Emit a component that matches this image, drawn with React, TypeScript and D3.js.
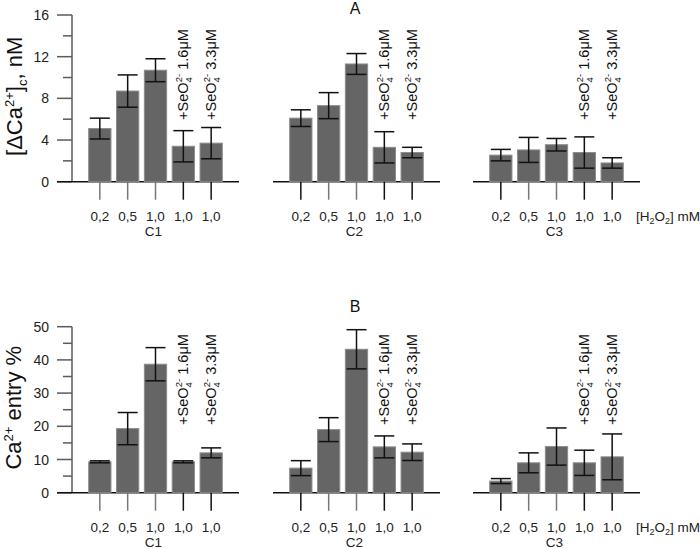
// Two-panel bar chart: [ΔCa2+]c and Ca2+ entry for C1–C3 under H2O2 / SeO4 treatments

import * as d3 from "d3";

const groups = ["C1", "C2", "C3"];
const doses = ["0,2", "0,5", "1,0", "1,0", "1,0"];
const seleniteNotes = ["", "", "", "1.6μM", "3.3μM"];

// panel A: [ΔCa2+]c, nM
const caMean = [
  [5.1, 8.7, 10.7, 3.4, 3.7],
  [6.1, 7.3, 11.3, 3.3, 2.8],
  [2.55, 3.05, 3.55, 2.8, 1.8],
];
const caErr = [
  [1.0, 1.55, 1.1, 1.5, 1.5],
  [0.8, 1.25, 1.0, 1.5, 0.5],
  [0.55, 1.2, 0.6, 1.5, 0.5],
];
const caTicks = [0, 4, 8, 12, 16];

// panel B: Ca2+ entry %
const entryMean = [
  [9.3, 19.3, 38.7, 9.3, 12.0],
  [7.4, 19.0, 43.2, 13.8, 12.2],
  [3.5, 9.0, 13.9, 9.0, 10.8],
];
const entryErr = [
  [0.3, 4.85, 5.0, 0.3, 1.5],
  [2.25, 3.6, 5.9, 3.3, 2.5],
  [0.75, 3.0, 5.6, 3.8, 6.9],
];
const entryTicks = [0, 10, 20, 30, 40, 50];

const FONT = "'Liberation Sans', Arial, sans-serif";
const BAR = "#656565";
const BAR_EDGE = "#8c8c8c";
const AXIS_GRAY = "#5a5a5a";
const INK = "#111";

const W = 700;
const H = 549;
const axisX = 72;
const groupStarts = [72, 273, 473];
const groupWidth = 167;

const xIn = d3
  .scalePoint<number>()
  .domain(d3.range(doses.length))
  .range([0, groupWidth])
  .padding(1);
const barW = xIn.step() * 0.8;

interface PanelProps {
  top: number;
  bottom: number;
  title: string;
  titleY: number;
  noteY: number;
  means: number[][];
  errs: number[][];
  ticks: number[];
  label: "ca" | "entry";
}

function SeNote({ x, y, conc }: { x: number; y: number; conc: string }) {
  return (
    <text
      transform={`translate(${x + 5},${y}) rotate(-90)`}
      fontSize={14.5}
      fontFamily={FONT}
      fill={INK}
    >
      +SeO
      <tspan fontSize={9.5} dy={4}>4</tspan>
      <tspan fontSize={9.5} dx={-5} dy={-10}>2-</tspan>
      <tspan dy={6}>{" " + conc}</tspan>
    </text>
  );
}

function Panel({ top, bottom, title, titleY, noteY, means, errs, ticks, label }: PanelProps) {
  const yMax = ticks[ticks.length - 1];
  const y = d3.scaleLinear().domain([0, yMax]).range([bottom, top]);
  const minor = d3.range(ticks[1] / 2, yMax, ticks[1]);
  const labelCenter = (top + bottom) / 2;

  return (
    <g>
      <text x={355} y={titleY} textAnchor="middle" fontSize={16} fontFamily={FONT} fill={INK}>
        {title}
      </text>

      {/* y axis */}
      <line x1={axisX} x2={axisX} y1={top} y2={bottom} stroke={AXIS_GRAY} strokeWidth={1.5} />
      {ticks.map((t) => (
        <g key={"t" + t}>
          <line x1={axisX - 15} x2={axisX} y1={y(t)} y2={y(t)} stroke={AXIS_GRAY} strokeWidth={1.5} />
          <text
            x={axisX - 23}
            y={y(t)}
            dy="0.36em"
            textAnchor="end"
            fontSize={14}
            fontFamily={FONT}
            fill="#222"
          >
            {t}
          </text>
        </g>
      ))}
      {minor.map((t) => (
        <line key={"m" + t} x1={axisX - 9} x2={axisX} y1={y(t)} y2={y(t)} stroke={AXIS_GRAY} strokeWidth={1.5} />
      ))}

      {label === "ca" ? (
        <text
          transform={`translate(22,${labelCenter - 2}) rotate(-90)`}
          textAnchor="middle"
          fontSize={22}
          fontFamily={FONT}
          fill={INK}
        >
          [ΔCa
          <tspan fontSize={13} dy={-8}>2+</tspan>
          <tspan dy={8}>]</tspan>
          <tspan fontSize={13} dy={5}>c</tspan>
          <tspan dy={-5}>, nM</tspan>
        </text>
      ) : (
        <text
          transform={`translate(21,${labelCenter - 2}) rotate(-90)`}
          textAnchor="middle"
          fontSize={22}
          fontFamily={FONT}
          fill={INK}
        >
          Ca
          <tspan fontSize={13} dy={-8}>2+</tspan>
          <tspan dy={8}> entry %</tspan>
        </text>
      )}

      {groups.map((g, gi) => {
        const x0 = groupStarts[gi];
        const gx = (i: number) => x0 + (xIn(i) ?? 0);
        return (
          <g key={g}>
            <line
              x1={gi === 0 ? axisX - 15 : x0}
              x2={x0 + groupWidth}
              y1={bottom}
              y2={bottom}
              stroke={INK}
              strokeWidth={1.5}
            />
            {means[gi].map((v, i) => {
              const cx = gx(i);
              const e = errs[gi][i];
              const dark = i >= 3 || (i === 0 && gi > 0);
              return (
                <g key={i}>
                  <rect
                    x={cx - barW / 2}
                    y={y(v)}
                    width={barW}
                    height={bottom - y(v)}
                    fill={BAR}
                    stroke={BAR_EDGE}
                    strokeWidth={1}
                  />
                  <line x1={cx} x2={cx} y1={y(v + e)} y2={y(v - e)} stroke={INK} strokeWidth={1.5} />
                  <line x1={cx - 10} x2={cx + 10} y1={y(v + e)} y2={y(v + e)} stroke={INK} strokeWidth={1.5} />
                  <line x1={cx - 10} x2={cx + 10} y1={y(v - e)} y2={y(v - e)} stroke={INK} strokeWidth={1.5} />
                  <line
                    x1={cx}
                    x2={cx}
                    y1={bottom}
                    y2={bottom + 18}
                    stroke={dark ? INK : "#777"}
                    strokeWidth={1.5}
                  />
                  <text
                    x={cx}
                    y={bottom + 39}
                    textAnchor="middle"
                    fontSize={13.5}
                    fontFamily={FONT}
                    fill="#222"
                  >
                    {doses[i]}
                  </text>
                  {seleniteNotes[i] && <SeNote x={cx} y={noteY} conc={seleniteNotes[i]} />}
                </g>
              );
            })}
            <text
              x={gx(2) - 2}
              y={bottom + 54}
              textAnchor="middle"
              fontSize={13.5}
              fontFamily={FONT}
              fill="#222"
            >
              {g}
            </text>
          </g>
        );
      })}

      <text x={636} y={bottom + 39} fontSize={13.5} fontFamily={FONT} fill="#222">
        [H<tspan fontSize={9} dy={3}>2</tspan>
        <tspan dy={-3}>O</tspan>
        <tspan fontSize={9} dy={3}>2</tspan>
        <tspan dy={-3}>] mM</tspan>
      </text>
    </g>
  );
}

export default function App() {
  return (
    <svg
      width={W}
      height={H}
      viewBox={`0 0 ${W} ${H}`}
      style={{ position: "absolute", left: 0, top: 0, background: "#fff" }}
    >
      <Panel
        top={15}
        bottom={181.7}
        title="A"
        titleY={14}
        noteY={120}
        means={caMean}
        errs={caErr}
        ticks={caTicks}
        label="ca"
      />
      <Panel
        top={326.7}
        bottom={492.7}
        title="B"
        titleY={312}
        noteY={425}
        means={entryMean}
        errs={entryErr}
        ticks={entryTicks}
        label="entry"
      />
    </svg>
  );
}
